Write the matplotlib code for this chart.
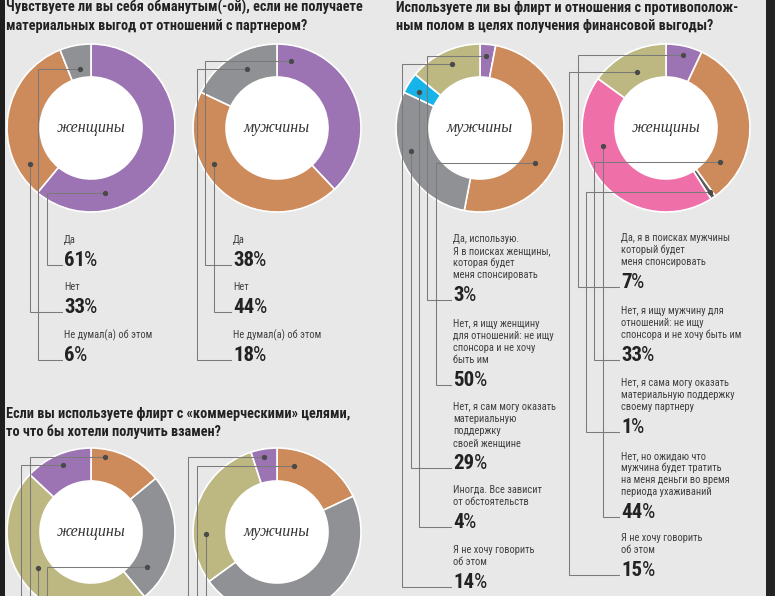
import numpy as np
import matplotlib
matplotlib.use('Agg')
import matplotlib.pyplot as plt
from matplotlib import font_manager
from matplotlib.patches import Circle, Rectangle

W, H = 775, 596

names = {f.name for f in font_manager.fontManager.ttflist}
SANS = 'Roboto Condensed' if 'Roboto Condensed' in names else 'Liberation Sans'
SERIF = 'Liberation Serif'

PURPLE = '#9d74b3'
ORANGE = '#cd8a5a'
GRAY = '#909194'
KHAKI = '#bdb881'
CYAN = '#16b4e8'
PINK = '#ef70a9'
DARK = '#5a5a5c'
BG = '#e8e8e8'
LINE = '#7a7a7a'

# --- data ---
q1_title = ['Чувствуете ли вы себя обманутым(-ой), если не получаете',
            'материальных выгод от отношений с партнером?']
q1_labels = ['Да', 'Нет', 'Не думал(а) об этом']
q1_women = [61, 33, 6]
q1_men = [38, 44, 18]
q1_colors = [PURPLE, ORANGE, GRAY]

q2_title = ['Используете ли вы флирт и отношения с противополож-',
            'ным полом в целях получения финансовой выгоды?']
q2_men_labels = ['Да, использую.\nЯ в поисках женщины,\nкоторая будет\nменя спонсировать',
                 'Нет, я ищу женщину\nдля отношений: не ищу\nспонсора и не хочу\nбыть им',
                 'Нет, я сам могу оказать\nматериальную\nподдержку\nсвоей женщине',
                 'Иногда. Все зависит\nот обстоятельств',
                 'Я не хочу говорить\nоб этом']
q2_men = [3, 50, 29, 4, 14]
q2_men_colors = [PURPLE, ORANGE, GRAY, CYAN, KHAKI]
q2_women_labels = ['Да, я в поисках мужчины\nкоторый будет\nменя спонсировать',
                   'Нет, я ищу мужчину для\nотношений: не ищу\nспонсора и не хочу быть им',
                   'Нет, я сама могу оказать\nматериальную поддержку\nсвоему партнеру',
                   'Нет, но ожидаю что\nмужчина будет тратить\nна меня деньги во время\nпериода ухаживаний',
                   'Я не хочу говорить\nоб этом']
q2_women = [7, 33, 1, 44, 15]
q2_women_colors = [PURPLE, ORANGE, DARK, PINK, KHAKI]

q3_title = ['Если вы используете флирт с «коммерческими» целями,',
            'то что бы хотели получить взамен?']
q3_women = [14, 25, 48, 13]
q3_men = [18, 47, 30, 5]
q3_colors = [ORANGE, GRAY, KHAKI, PURPLE]


def py(y):
    return H - y


fig = plt.figure(figsize=(W / 100, H / 100), dpi=100)
fig.patch.set_facecolor(BG)
ax = fig.add_axes([0, 0, 1, 1])
ax.set_facecolor(BG)


def title(x, y, lines):
    for k, s in enumerate(lines):
        ax.text(x, py(y + 18 * k), s, family=SANS, fontsize=10.3, fontweight='bold',
                color='#222222', va='baseline', ha='left')


def donut(cx, cy, values, colors, name, leaders, text_x=None, labels=None):
    R, w = 84, 33
    ax.pie(values, colors=colors, startangle=90, counterclock=False, radius=R,
           center=(cx, py(cy)), frame=True,
           wedgeprops=dict(width=w, edgecolor='white', linewidth=1.2))
    ax.add_patch(Circle((cx, py(cy)), R - w, facecolor='white', edgecolor='none', zorder=3))
    ax.text(cx, py(cy), name, family=SERIF, style='italic', fontsize=11.5,
            color='#333333', ha='center', va='center', zorder=4)
    cum = np.concatenate([[0], np.cumsum(values)]) / sum(values) * 360
    for i, ld in enumerate(leaders):
        if ld is None:
            continue
        frac, r, bend, end_y = ld
        th = np.radians(cum[i] + frac * (cum[i + 1] - cum[i]))
        dx, dy = cx + r * np.sin(th), cy - r * np.cos(th)
        bx = dx if bend is None else bend
        tx = text_x - 2 if text_x is not None else bx
        xs = [dx, bx, bx, tx]
        ys = [dy, dy, end_y, end_y]
        ax.plot(xs, [py(v) for v in ys], color=LINE, lw=0.75, zorder=5,
                solid_joinstyle='miter')
        ax.plot(dx, py(dy), 'o', color='#4a4a4a', ms=2.8, zorder=6)
        if labels is None:
            continue
        lines = labels[i].split('\n')
        n = len(lines)
        for j, s in enumerate(lines):
            ax.text(text_x, py(end_y - 22 - 12 * (n - 1 - j)), s, family=SANS,
                    fontsize=7.5, color='#404040', va='baseline', ha='left')
        t = ax.text(text_x, py(end_y + 1), str(values[i]), family=SANS,
                    fontsize=15, fontweight='bold', color='#222222',
                    va='baseline', ha='left')
        ax.annotate('%', xy=(1, 0), xycoords=t, xytext=(-0.5, 0),
                    textcoords='offset points', family=SANS, fontsize=15,
                    color='#222222', va='bottom', ha='left')


# --- question 1 ---
title(6, 12, q1_title)
donut(91, 128, q1_women, q1_colors, 'женщины',
      [(0.765, 66.5, 47, 265), (0.17, 71, None, 312), (0.51, 60, 38, 360)],
      64, q1_labels)
donut(277, 128, q1_men, q1_colors, 'мужчины',
      [(0.086, 68, 205, 265), (0.653, 72.6, None, 312), (0.58, 66, 197, 360)],
      233, q1_labels)

# --- question 2 ---
title(396, 12, q2_title)
donut(480, 128, q2_men, q2_men_colors, 'мужчины',
      [(0.44, 72, 427, 300), (0.62, 65, 436, 385), (0.58, 72.7, None, 468),
       (0.37, 71, None, 527), (0.53, 70, 402, 587)],
      453, q2_men_labels)
donut(666, 128, q2_women, q2_women_colors, 'женщины',
      [(0.52, 75, 578, 287), (0.82, 64, 594, 360), (0.42, 77.7, 586, 432),
       (0.67, 65.5, None, 517), (0.49, 63, 569, 575)],
      621, q2_women_labels)

# --- question 3 ---
title(6, 418, q3_title)
donut(91, 532, q3_women, q3_colors, 'женщины',
      [(0.21, 76, 30, 700), (0.8, 66, 47, 700), (0.55, 64, None, 700),
       (0.51, 72.6, 21, 700)])
donut(277, 532, q3_men, q3_colors, 'мужчины',
      [(0.22, 68, 197, 700), None, (0.32, 71, None, 700), (0.46, 76, 188, 700)])

# dark page edges of the screenshot
ax.add_patch(Rectangle((0, 0), 5, H, facecolor='#1f1f1f', edgecolor='none', zorder=10))
ax.add_patch(Rectangle((766, 0), 9, H, facecolor='#232323', edgecolor='none', zorder=10))

ax.set_xlim(0, W)
ax.set_ylim(0, H)
ax.set_aspect('auto')
ax.axis('off')

fig.savefig('out.png', dpi=100, facecolor=BG)
